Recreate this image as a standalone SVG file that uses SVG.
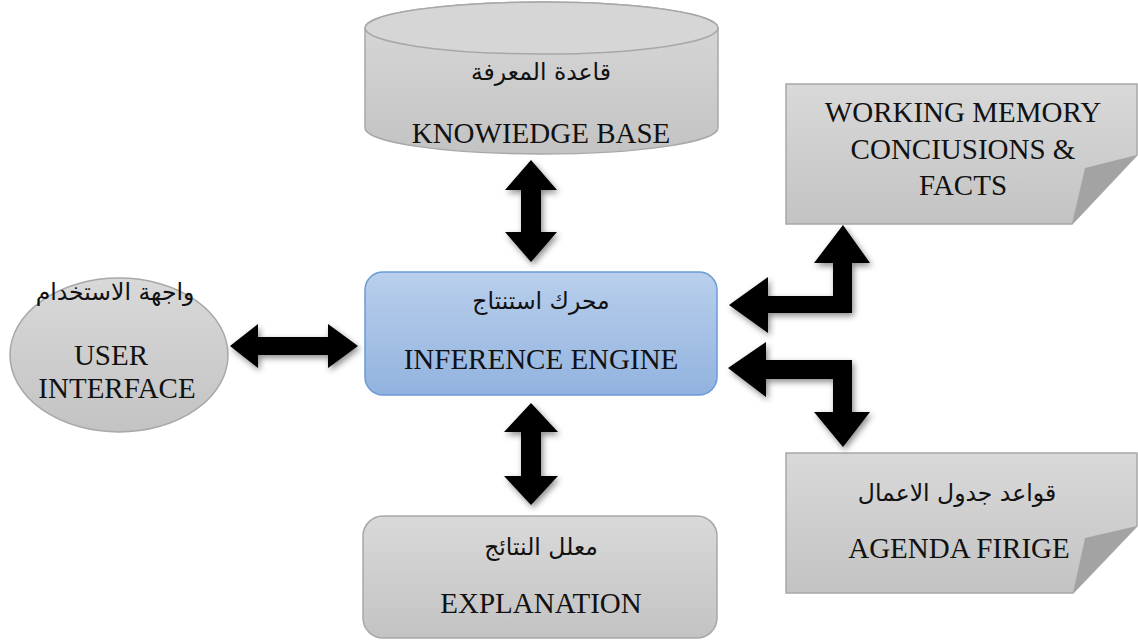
<svg xmlns="http://www.w3.org/2000/svg" width="1138" height="640" viewBox="0 0 1138 640">
<style>
.en{font-family:"Liberation Serif","Times New Roman",serif;font-size:29px;fill:#111;text-anchor:middle}
.ar{font-family:"DejaVu Sans","Noto Sans",sans-serif;font-size:23.5px;fill:#111;text-anchor:middle}
.gray{fill:url(#gg);stroke:#a8a8a8;stroke-width:1.5}
.arrow{fill:#000;filter:url(#sh)}
</style>
<defs>
<linearGradient id="gg" x1="0" y1="0" x2="0" y2="1">
<stop offset="0" stop-color="#d9d9d9"/><stop offset="1" stop-color="#c3c3c3"/>
</linearGradient>
<linearGradient id="bg" x1="0" y1="0" x2="0" y2="1">
<stop offset="0" stop-color="#b9cfec"/><stop offset="1" stop-color="#92b3df"/>
</linearGradient>
<filter id="sh" x="-30%" y="-30%" width="160%" height="160%">
<feDropShadow dx="2" dy="3" stdDeviation="3" flood-color="#000" flood-opacity="0.45"/>
</filter>
</defs>
<rect width="1138" height="640" fill="#fff"/>

<g id="knowledge-base">
<path class="gray" d="M365,28 L365,128 A176.5,26 0 0 0 718,128 L718,28 A176.5,26 0 0 0 365,28 Z"/>
<ellipse cx="541.5" cy="28" rx="176.5" ry="26" fill="#d6d6d6" stroke="#a8a8a8" stroke-width="1.5"/>
<text class="ar" x="541" y="80">قاعدة المعرفة</text>
<text class="en" x="541" y="143">KNOWIEDGE BASE</text>
</g>

<g id="working-memory">
<path class="gray" d="M786,84 L1137,84 L1137,155 L1072,224 L786,224 Z"/>
<path d="M1137,155 L1085,168 L1072,224 Z" fill="#a3a3a3"/>
<text class="en" x="963" y="122">WORKING MEMORY</text>
<text class="en" x="963" y="159">CONCIUSIONS &amp;</text>
<text class="en" x="963" y="195">FACTS</text>
</g>

<g id="user-interface">
<ellipse class="gray" cx="119" cy="355" rx="109" ry="77"/>
<text class="ar" x="115" y="300">واجهة الاستخدام</text>
<text class="en" x="111" y="365">USER</text>
<text class="en" x="117" y="398">INTERFACE</text>
</g>

<g id="inference-engine">
<rect x="365" y="272" width="352" height="123" rx="18" fill="url(#bg)" stroke="#6a9bd4" stroke-width="1.5"/>
<text class="ar" x="541" y="309">محرك استنتاج</text>
<text class="en" x="541" y="369">INFERENCE ENGINE</text>
</g>

<g id="explanation">
<rect class="gray" x="363" y="516" width="354" height="122" rx="20"/>
<text class="ar" x="541" y="555">معلل النتائج</text>
<text class="en" x="541" y="613">EXPLANATION</text>
</g>

<g id="agenda">
<path class="gray" d="M786,453 L1137,453 L1137,526 L1073,593 L786,593 Z"/>
<path d="M1137,526 L1085,538 L1073,593 Z" fill="#a3a3a3"/>
<text class="ar" x="957" y="501">قواعد جدول الاعمال</text>
<text class="en" x="959" y="558">AGENDA FIRIGE</text>
</g>

<g id="connectors">
<path class="arrow" d="M531,160 L557,190 L541,190 L541,232 L557,232 L531,262 L505,232 L521,232 L521,190 L505,190 Z"/>
<path class="arrow" d="M531,403 L558,432 L541,432 L541,476 L558,476 L531,505 L504,476 L521,476 L521,432 L504,432 Z"/>
<path class="arrow" d="M230,346 L258,324 L258,337 L328,337 L328,324 L358,346 L328,368 L328,355 L258,355 L258,368 Z"/>
<path class="arrow" d="M843,225 L870,263 L852,263 L852,313 L768,313 L768,333 L729,305 L768,277 L768,296 L833,296 L833,263 L814,263 Z"/>
<path class="arrow" d="M728,368 L766,342 L766,360 L852,360 L852,412 L870,412 L843,447 L814,412 L833,412 L833,379 L766,379 L766,397 Z"/>
</g>
</svg>
